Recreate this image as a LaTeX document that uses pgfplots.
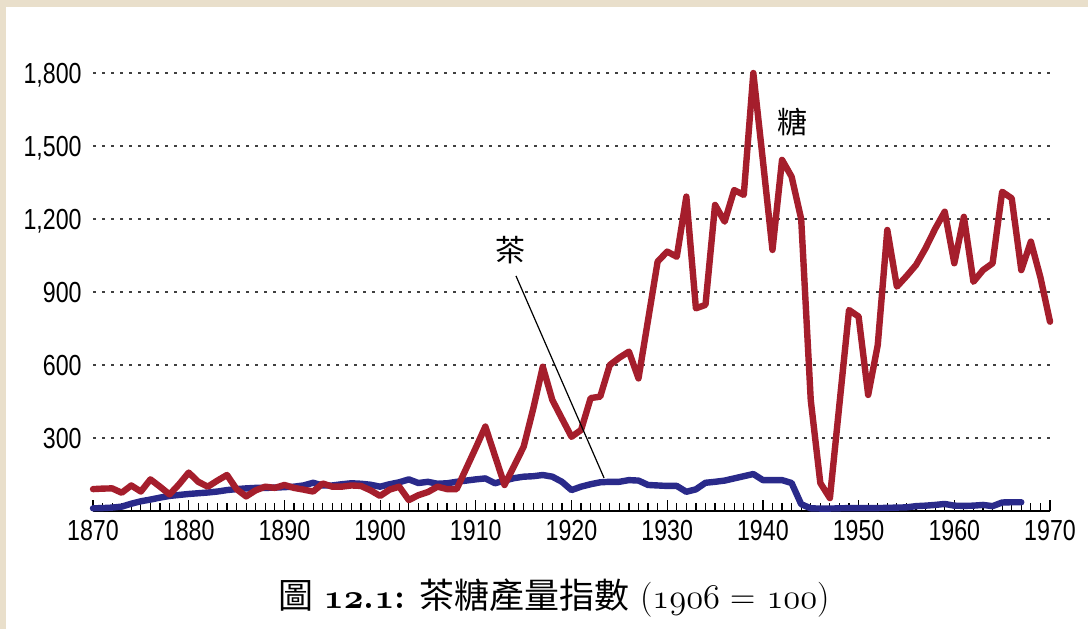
\documentclass[border=0pt]{standalone}
\usepackage{fontspec}
\usepackage{pgfplots}
\pgfplotsset{compat=1.18}
\newfontfamily\ticfont[FakeStretch=0.8]{Liberation Sans}
\newfontfamily\cjk{Noto Sans CJK TC}
\newcommand\osn[1]{{\usefont{OML}{cmm}{m}{it}#1}}
\newcommand\osnb[1]{{\usefont{OML}{cmm}{b}{it}#1}}
\definecolor{sugar}{RGB}{165,30,44}
\definecolor{tea}{RGB}{42,42,138}
\definecolor{parch}{RGB}{233,223,203}
\begin{document}
\begin{tikzpicture}[x=1pt,y=1pt]
\useasboundingbox (0,0) rectangle (544,314.5);
\fill[parch] (0,0) rectangle (544,314.5);
\fill[white] (3,0) rectangle (544,311);
\begin{axis}[
  at={(46.5pt,59pt)}, anchor=south west,
  scale only axis, width=478.5pt, height=219pt,
  xmin=1870, xmax=1970, ymin=0, ymax=1800,
  clip=false,
  axis x line*=bottom, axis y line*=left,
  x axis line style={-, line width=1pt, black},
  y axis line style={draw=none},
  xtick={1870,1880,...,1970},
  minor x tick num=9,
  ytick={300,600,...,1800},
  tick align=inside,
  major tick length=5.5pt, minor tick length=4pt,
  xtick style={black, line width=0.6pt},
  ytick style={draw=none},
  ymajorgrids,
  grid style={black!75, line width=0.9pt, dash pattern=on 1.3pt off 3.2pt},
  /pgf/number format/assume math mode=true,
  tick label style={font=\ticfont\fontsize{14.5}{15}\selectfont},
  xticklabel style={inner sep=0pt, yshift=-4.5pt, /pgf/number format/1000 sep={}},
  yticklabel style={inner sep=0pt, xshift=-5.5pt, text depth=0pt, /pgf/number format/1000 sep={,}},
]
\addplot[tea, line width=3.2pt, line join=round, line cap=round] coordinates {
(1870,11)(1871,12)(1872,14)(1873,18)(1874,30)(1875,40)(1876,47)(1877,55)(1878,62)(1879,66)
(1880,70)(1881,73)(1882,76)(1883,80)(1884,86)(1885,90)(1886,93)(1887,95)(1888,95)(1889,96)
(1890,98)(1891,100)(1892,105)(1893,116)(1894,105)(1895,105)(1896,110)(1897,114)(1898,112)(1899,108)
(1900,100)(1901,110)(1902,118)(1903,130)(1904,115)(1905,120)(1906,112)(1907,114)(1908,120)(1909,125)
(1910,130)(1911,134)(1912,114)(1913,125)(1914,135)(1915,141)(1916,143)(1917,148)(1918,141)(1919,120)
(1920,86)(1921,100)(1922,110)(1923,118)(1924,120)(1925,120)(1926,127)(1927,125)(1928,107)(1929,105)
(1930,103)(1931,103)(1932,79)(1933,89)(1934,116)(1935,120)(1936,125)(1937,134)(1938,143)(1939,152)
(1940,127)(1941,127)(1942,127)(1943,115)(1944,28)(1945,11)(1946,10)(1947,10)(1948,11)(1949,12)
(1950,12)(1951,12)(1952,12)(1953,13)(1954,14)(1955,15)(1956,20)(1957,22)(1958,25)(1959,29)
(1960,22)(1961,21)(1962,22)(1963,25)(1964,20)(1965,35)(1966,36)(1967,36)
};
\addplot[sugar, line width=3.2pt, line join=round, line cap=round] coordinates {
(1870,90)(1871,92)(1872,93)(1873,75)(1874,105)(1875,80)(1876,130)(1877,100)(1878,68)(1879,110)
(1880,158)(1881,120)(1882,100)(1883,125)(1884,148)(1885,90)(1886,60)(1887,85)(1888,100)(1889,95)
(1890,107)(1891,95)(1892,88)(1893,80)(1894,113)(1895,100)(1896,100)(1897,105)(1898,103)(1899,85)
(1900,62)(1901,88)(1902,100)(1903,45)(1904,65)(1905,78)(1906,100)(1907,90)(1908,90)(1909,175)
(1910,260)(1911,347)(1912,227)(1913,107)(1914,185)(1915,264)(1916,420)(1917,593)(1918,456)(1919,380)
(1920,305)(1921,333)(1922,464)(1923,470)(1924,600)(1925,630)(1926,655)(1927,545)(1928,785)(1929,1025)
(1930,1066)(1931,1045)(1932,1292)(1933,833)(1934,847)(1935,1258)(1936,1189)(1937,1319)(1938,1299)(1939,1800)
(1940,1440)(1941,1073)(1942,1443)(1943,1374)(1944,1200)(1945,456)(1946,115)(1947,53)(1948,440)(1949,826)
(1950,799)(1951,477)(1952,682)(1953,1155)(1954,922)(1955,965)(1956,1011)(1957,1080)(1958,1160)(1959,1230)
(1960,1018)(1961,1209)(1962,942)(1963,990)(1964,1018)(1965,1312)(1966,1285)(1967,990)(1968,1107)(1969,960)
(1970,778)
};
\draw[black, line width=0.6pt] (axis cs:1914.2,966) -- (axis cs:1923.4,136);
\node[font=\cjk\fontsize{15}{15}\selectfont, inner sep=0pt] at (axis cs:1913.6,1073) {茶};
\node[font=\cjk\fontsize{15}{15}\selectfont, inner sep=0pt] at (axis cs:1943.1,1599) {糖};
\end{axis}
\node[inner sep=0pt, font=\fontsize{17.5}{21}\selectfont] at (277,15.5)
  {{\cjk 圖} {\bfseries\osnb{12}.\osnb{1}:} {\cjk 茶糖產量指數} (\osn{1906} = \osn{100})};
\end{tikzpicture}
\end{document}
